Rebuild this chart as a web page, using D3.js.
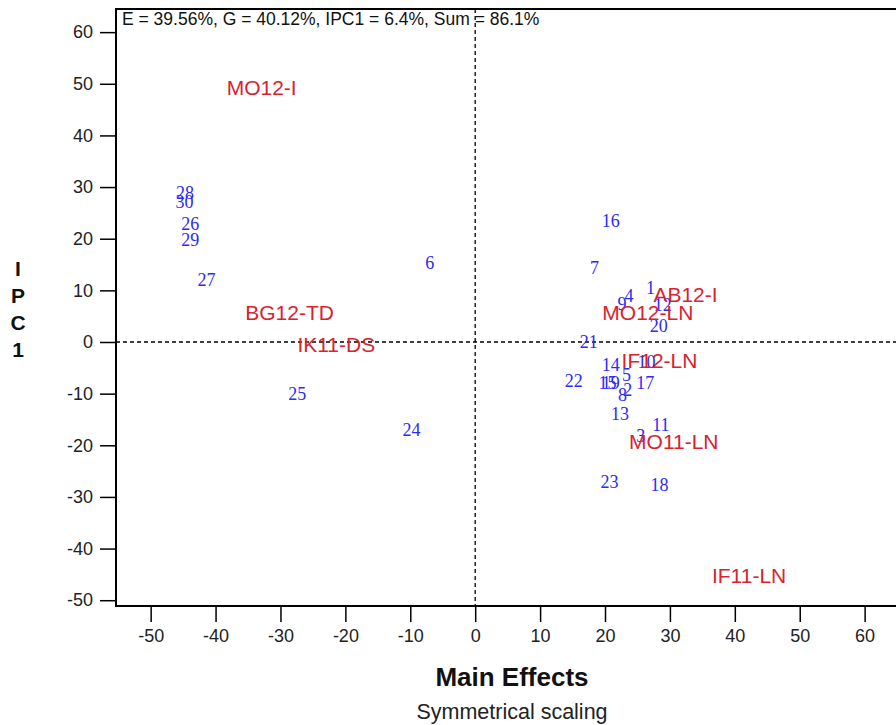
<!DOCTYPE html>
<html>
<head>
<meta charset="utf-8">
<script src="https://cdn.jsdelivr.net/npm/d3@7"></script>
<style>
  body { margin: 0; background: #fff; }
  svg { display: block; }
</style>
</head>
<body>
<div id="chart"></div>
<script>
// genotypes (blue numbers)
const genoIds = ["1","2","3","4","5","6","7","8","9","10","11","12","13","14","15",
                 "16","17","18","19","20","21","22","23","24","25","26","27","28","29","30"];
const genoX = [27.0, 23.5, 25.5, 23.7, 23.3, -7.0, 18.4, 22.7, 22.6, 26.4, 28.6, 28.9, 22.3, 20.9, 20.4,
               20.9, 26.2, 28.4, 20.9, 28.3, 17.5, 15.2, 20.7, -9.8, -27.4, -43.9, -41.4, -44.7, -43.9, -44.8];
const genoY = [10.5, -9.3, -18.2, 8.9, -6.4, 15.3, 14.3, -10.3, 7.4, -3.9, -16.1, 7.2, -13.9, -4.3, -7.9,
               23.4, -7.9, -27.7, -7.9, 3.1, 0.0, -7.4, -27.1, -17.0, -10.1, 22.9, 12.0, 29.0, 19.8, 27.1];

// environments (red labels)
const envNames = ["MO12-I", "BG12-TD", "IK11-DS", "AB12-I", "MO12-LN", "IF12-LN", "MO11-LN", "IF11-LN"];
const envX = [-32.9, -28.6, -21.4, 32.4, 26.6, 28.4, 30.6, 42.2];
const envY = [49.2, 5.6, -0.6, 9.1, 5.6, -3.7, -19.2, -45.3];

const xTicks = [-50, -40, -30, -20, -10, 0, 10, 20, 30, 40, 50, 60];
const yTicks = [-50, -40, -30, -20, -10, 0, 10, 20, 30, 40, 50, 60];

const infoText = "E = 39.56%, G = 40.12%, IPC1 = 6.4%, Sum = 86.1%";

const width = 896, height = 725;
const plot = { left: 116, right: 900, top: 9, bottom: 606 };

const svg = d3.select("#chart").append("svg")
  .attr("width", width)
  .attr("height", height)
  .style("font-family", "Arial, 'Liberation Sans', sans-serif");

const x = d3.scaleLinear().domain([-55.34, 65.45]).range([plot.left, plot.right]);
const y = d3.scaleLinear().domain([-51.12, 64.48]).range([plot.bottom, plot.top]);

// reference lines at zero
svg.append("line")
  .attr("x1", x(0)).attr("x2", x(0))
  .attr("y1", plot.top).attr("y2", plot.bottom)
  .attr("stroke", "#000").attr("stroke-width", 1.3)
  .attr("stroke-dasharray", "4,3");

svg.append("line")
  .attr("x1", plot.left).attr("x2", plot.right)
  .attr("y1", y(0)).attr("y2", y(0))
  .attr("stroke", "#000").attr("stroke-width", 1.3)
  .attr("stroke-dasharray", "4,3");

// axes (plain hyphen for negatives, like the original)
const fmt = d => String(d);

const xAxis = svg.append("g")
  .attr("transform", `translate(0,${plot.bottom})`)
  .call(d3.axisBottom(x).tickValues(xTicks).tickFormat(fmt).tickSize(16).tickPadding(7));

const yAxis = svg.append("g")
  .attr("transform", `translate(${plot.left},0)`)
  .call(d3.axisLeft(y).tickValues(yTicks).tickFormat(fmt).tickSize(16).tickPadding(7));

[xAxis, yAxis].forEach(g => {
  g.select(".domain").remove();
  g.selectAll("line").attr("stroke", "#000").attr("stroke-width", 1.5);
  g.selectAll("text")
    .attr("fill", "#222")
    .style("font-size", "18px")
    .style("font-family", "Arial, 'Liberation Sans', sans-serif");
});

// frame
svg.append("rect")
  .attr("x", plot.left).attr("y", plot.top)
  .attr("width", plot.right - plot.left)
  .attr("height", plot.bottom - plot.top)
  .attr("fill", "none")
  .attr("stroke", "#000")
  .attr("stroke-width", 2);

svg.append("text")
  .attr("x", plot.left + 6)
  .attr("y", plot.top + 16)
  .attr("fill", "#111")
  .style("font-size", "17.5px")
  .text(infoText);

// genotype numbers
svg.append("g").selectAll("text")
  .data(genoIds)
  .join("text")
    .attr("x", (d, i) => x(genoX[i]))
    .attr("y", (d, i) => y(genoY[i]))
    .attr("dy", "0.35em")
    .attr("text-anchor", "middle")
    .attr("fill", "#2b2bf5")
    .style("font-family", "'Liberation Serif', 'Times New Roman', serif")
    .style("font-size", "18px")
    .text(d => d);

// environment labels
svg.append("g").selectAll("text")
  .data(envNames)
  .join("text")
    .attr("x", (d, i) => x(envX[i]))
    .attr("y", (d, i) => y(envY[i]))
    .attr("dy", "0.35em")
    .attr("text-anchor", "middle")
    .attr("fill", "#d8232e")
    .style("font-size", "21px")
    .text(d => d);

// axis titles
svg.append("text")
  .attr("x", 512).attr("y", 686)
  .attr("text-anchor", "middle")
  .attr("fill", "#111")
  .style("font-size", "26px")
  .style("font-weight", "bold")
  .text("Main Effects");

svg.append("text")
  .attr("x", 512).attr("y", 719)
  .attr("text-anchor", "middle")
  .attr("fill", "#222")
  .style("font-size", "21.5px")
  .text("Symmetrical scaling");

const yTitle = svg.append("text")
  .attr("text-anchor", "middle")
  .attr("fill", "#111")
  .style("font-size", "21px")
  .style("font-weight", "bold");

["I", "P", "C", "1"].forEach((ch, i) => {
  yTitle.append("tspan")
    .attr("x", 18)
    .attr("y", 276 + i * 27)
    .text(ch);
});
</script>
</body>
</html>
